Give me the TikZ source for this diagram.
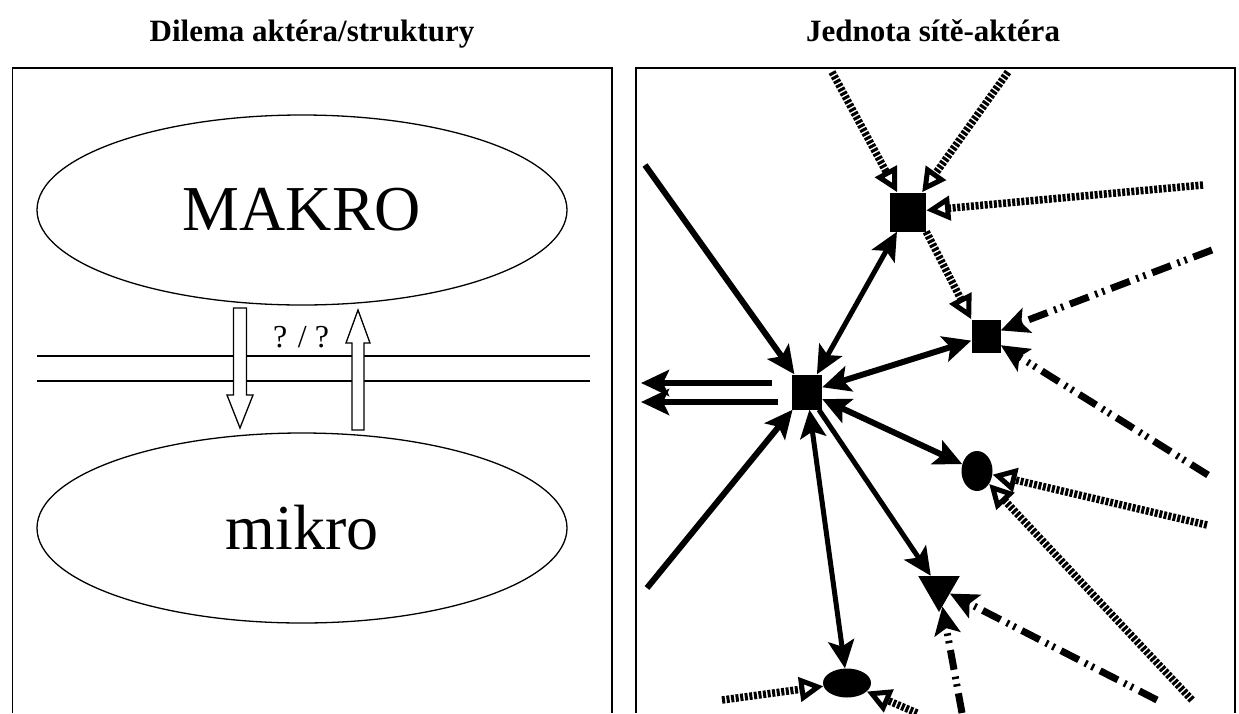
\documentclass[tikz,border=0pt]{standalone}
\usepackage{fontspec}
\setmainfont{Liberation Serif}
\usetikzlibrary{arrows.meta,shapes.geometric}
\begin{document}
\begin{tikzpicture}[x=1pt,y=-1pt,
  frame/.style={line width=1.6pt},
  title/.style={font=\fontsize{31}{36}\selectfont\bfseries, anchor=base},
  big/.style={ellipse, draw, line width=1.3pt, minimum width=530pt, minimum height=190pt, inner sep=0pt, font=\fontsize{64}{70}\selectfont},
  blk/.style={draw, line width=1.3pt, fill=white},
  sq/.style={rectangle, fill=black, inner sep=0pt},
  ell/.style={ellipse, fill=black, inner sep=0pt},
  tri/.style={regular polygon, regular polygon sides=3, shape border rotate=180, fill=black, inner sep=0pt},
  sol/.style={line width=6pt, -{Stealth[length=28pt,width=26pt,inset=6pt]}},
  dsol/.style={line width=5pt, {Stealth[length=28pt,width=26pt,inset=6pt]}-{Stealth[length=28pt,width=26pt,inset=6pt]}},
  one/.style={line width=5pt, -{Stealth[length=28pt,width=26pt,inset=6pt]}},
  dot/.style={line width=7.5pt, dash pattern=on 3pt off 1.6pt, -{Triangle[open,length=24pt,width=24pt,line width=5pt]}},
  dashdot/.style={line width=7pt, dash pattern=on 20pt off 7pt on 2.5pt off 5pt on 2.5pt off 7pt, -{Stealth[length=28pt,width=26pt,inset=6pt]}}
]
\useasboundingbox (0,0) rectangle (1239,713);

% titles
\node[title] (t1) at (312,41) {Dilema aktéra/struktury};
\node[title] (t2) at (933,41) {Jednota sítě-aktéra};

% frames
\draw[frame] (12.5,713) -- (12.5,68) -- (612,68) -- (612,713);
\draw[frame, line width=2.6pt] (636,713) -- (636,68) -- (1235,68) -- (1235,713);

% ---------- left panel ----------
\node[big] (makro) at (302,210) {MAKRO};
\node[big] (mikro) at (302,528) {mikro};

\coordinate (h1w) at (37,356);  \coordinate (h1e) at (590,356);
\coordinate (h2w) at (37,381);  \coordinate (h2e) at (590,381);
\draw[line width=1.2pt] (h1w) -- (h1e);
\draw[line width=1.2pt] (h2w) -- (h2e);

\draw[blk] (233.5,308) -- (246.5,308) -- (246.5,395) -- (253,395) -- (240,428) -- (227,395) -- (233.5,395) -- cycle;
\draw[blk] (352,430) -- (364,430) -- (364,343) -- (370,343) -- (358,310) -- (346,343) -- (352,343) -- cycle;

\node[font=\fontsize{32}{36}\selectfont, anchor=base] (q) at (301,347) {? / ?};

% ---------- right panel ----------
\node[sq, minimum width=36pt, minimum height=39pt] (A) at (908,212) {};
\node[sq, minimum width=29pt, minimum height=33pt] (B) at (986,336) {};
\node[sq, minimum width=30pt, minimum height=35pt] (C) at (807,392) {};
\node[ell, minimum width=31pt, minimum height=40pt] (D) at (977,471) {};
\node[tri, minimum size=48pt] (E) at (939,588) {};
\node[ell, minimum width=48pt, minimum height=29pt] (F) at (847,683) {};

% free ends
\coordinate (Lnw) at (645,165);
\coordinate (Lsw) at (647,588);
\coordinate (o1) at (641,383);
\coordinate (o2) at (641,402);
\coordinate (pA1) at (832,72);
\coordinate (pA2) at (1008,72);
\coordinate (pA3) at (1203,185);
\coordinate (pB1) at (1212,250);
\coordinate (pB2) at (1208,475);
\coordinate (pD1) at (1207,525);
\coordinate (pD2) at (1192,700);
\coordinate (pE1) at (1157,700);
\coordinate (pE2) at (962,713);
\coordinate (pF1) at (722,700);
\coordinate (pF2) at (917,713);

% solid connectors
\draw[sol] (Lnw) -- (C);
\draw[sol] (Lsw) -- (C);
\draw[sol, line width=6.5pt] ([xshift=-20pt,yshift=9pt]C.west) -- (o1);
\draw[sol, line width=6.5pt] ([xshift=-14pt,yshift=-10pt]C.west) -- (o2);
\draw[dsol] (C) -- (A);
\draw[dsol, line width=6pt] (C) -- (B);
\draw[dsol, line width=6pt] (C) -- (D);
\draw[dsol] (C) -- (F);
\draw[one] (C) -- (E);

% dotted connectors
\draw[dot] (pA1) -- (A);
\draw[dot] (pA2) -- (A);
\draw[dot] (pA3) -- (A);
\draw[dot] (A.south east) -- (B.north west);
\draw[dot] (pD1) -- (D);
\draw[dot] (pD2) -- (D);
\draw[dot] (pF1) -- (F);
\draw[dot] (pF2) -- (F);

% dash-dot connectors
\draw[dashdot] (pB1) -- (B);
\draw[dashdot] (pB2) -- (B);
\draw[dashdot] (pE1) -- (E);
\draw[dashdot] (pE2) -- (E);
\end{tikzpicture}
\end{document}
